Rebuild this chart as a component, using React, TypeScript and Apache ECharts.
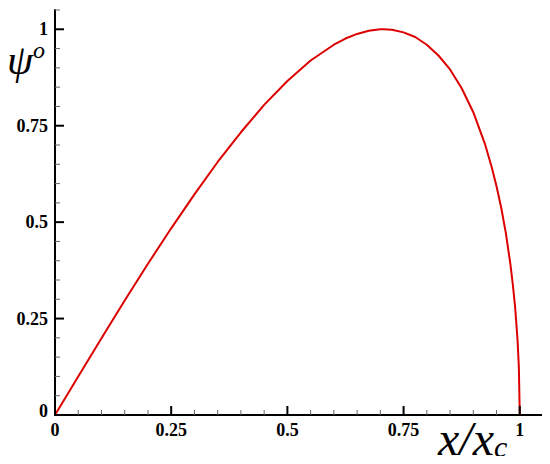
import React, { useEffect, useRef } from "react";
import * as echarts from "echarts";

const xValues = [0, 0.05, 0.1, 0.15, 0.2, 0.25, 0.3, 0.35, 0.4, 0.45, 0.5, 0.55, 0.6, 0.625, 0.65, 0.675, 0.7, 0.707, 0.725, 0.75, 0.775, 0.8, 0.825, 0.85, 0.875, 0.9, 0.925, 0.94, 0.95, 0.96, 0.97, 0.98, 0.985, 0.99, 0.995, 0.998, 1];
const psiValues = [0, 0.1, 0.199, 0.297, 0.392, 0.484, 0.572, 0.656, 0.733, 0.804, 0.866, 0.919, 0.96, 0.976, 0.988, 0.996, 1.0, 1.0, 0.999, 0.992, 0.98, 0.96, 0.932, 0.896, 0.847, 0.785, 0.703, 0.641, 0.593, 0.538, 0.472, 0.39, 0.339, 0.28, 0.199, 0.126, 0];
const majorTicks = [0, 0.25, 0.5, 0.75, 1];
const minorTicks = [0.05, 0.1, 0.15, 0.2, 0.3, 0.35, 0.4, 0.45, 0.55, 0.6, 0.65, 0.7, 0.8, 0.85, 0.9, 0.95, 1.05];
const majorTickLabels = ["0", "0.25", "0.5", "0.75", "1"];

const FONT = "Liberation Serif";
const AX_MAX = 1.05;
const GRID = { left: 55, right: 7, top: 10, bottom: 49 };
const W = 550;
const H = 464;

export default function App() {
  const ref = useRef<HTMLDivElement>(null);
  useEffect(() => {
    if (!ref.current) return;
    const chart = echarts.init(ref.current, null, { renderer: "svg" });
    const axis = () => ({
      type: "value",
      min: 0,
      max: AX_MAX,
      interval: 0.25,
      axisLine: { show: true, onZero: false, lineStyle: { color: "#000", width: 2 } },
      axisTick: { show: false },
      axisLabel: { show: false },
      splitLine: { show: false },
    });
    const titles: any[] = [
      {
        type: "text",
        left: 7,
        top: 38,
        style: {
          text: "{a|ψ}{b|o}",
          rich: {
            a: { fontFamily: FONT, fontStyle: "italic", fontSize: 42, fill: "#000" },
            b: { fontFamily: FONT, fontStyle: "italic", fontSize: 24, fill: "#000", verticalAlign: "top", padding: [0, 0, 20, 0] },
          },
        },
      },
      {
        type: "text",
        left: 438,
        top: 414,
        style: {
          text: "{a|x/x}{b|c}",
          rich: {
            a: { fontFamily: FONT, fontStyle: "italic", fontSize: 48, fill: "#000" },
            b: { fontFamily: FONT, fontStyle: "italic", fontSize: 30, fill: "#000", padding: [16, 0, 0, 0] },
          },
        },
      },
    ];
    chart.setOption({
      animation: false,
      grid: GRID,
      xAxis: axis(),
      yAxis: axis(),
      series: [
        {
          type: "line",
          data: xValues.map((x, i) => [x, psiValues[i]]),
          smooth: false,
          showSymbol: false,
          lineStyle: { color: "#dd0000", width: 2 },
        },
      ],
      graphic: titles,
    });

    const toPx = (vx: number, vy: number): number[] => {
      try {
        const p = chart.convertToPixel({ gridIndex: 0 }, [vx, vy]) as number[];
        if (p && isFinite(p[0]) && isFinite(p[1])) return p;
      } catch (e) {
        /* fall through */
      }
      const gw = W - GRID.left - GRID.right;
      const gh = H - GRID.top - GRID.bottom;
      return [GRID.left + (vx / AX_MAX) * gw, H - GRID.bottom - (vy / AX_MAX) * gh];
    };

    const extra: any[] = [];
    const [x0, y0] = toPx(0, 0);
    const addTicks = (vals: number[], len: number, color: string, width: number) => {
      vals.forEach((v) => {
        const [px] = toPx(v, 0);
        const [, py] = toPx(0, v);
        extra.push({ type: "rect", silent: true, z: 100, shape: { x: px - width / 2, y: y0 - len, width: width, height: len }, style: { fill: color } });
        extra.push({ type: "rect", silent: true, z: 100, shape: { x: x0, y: py - width / 2, width: len, height: width }, style: { fill: color } });
      });
    };
    addTicks(minorTicks, 5, "#666", 1);
    addTicks(majorTicks, 9, "#000", 2);
    majorTicks.forEach((v, i) => {
      const [px] = toPx(v, 0);
      const [, py] = toPx(0, v);
      extra.push({
        type: "text",
        silent: true,
        z: 10,
        x: px,
        y: y0 + 6,
        style: { text: majorTickLabels[i], fontFamily: FONT, fontWeight: "bold", fontSize: 18, fill: "#000", align: "center", verticalAlign: "top" },
      });
      extra.push({
        type: "text",
        silent: true,
        z: 10,
        x: x0 - 7,
        y: v === 0 ? py - 4 : py,
        style: { text: majorTickLabels[i], fontFamily: FONT, fontWeight: "bold", fontSize: 18, fill: "#000", align: "right", verticalAlign: "middle" },
      });
    });
    chart.setOption({ graphic: [...titles, ...extra] });
    return () => chart.dispose();
  }, []);
  return <div ref={ref} style={{ width: 550, height: 464, margin: -8 }} />;
}
